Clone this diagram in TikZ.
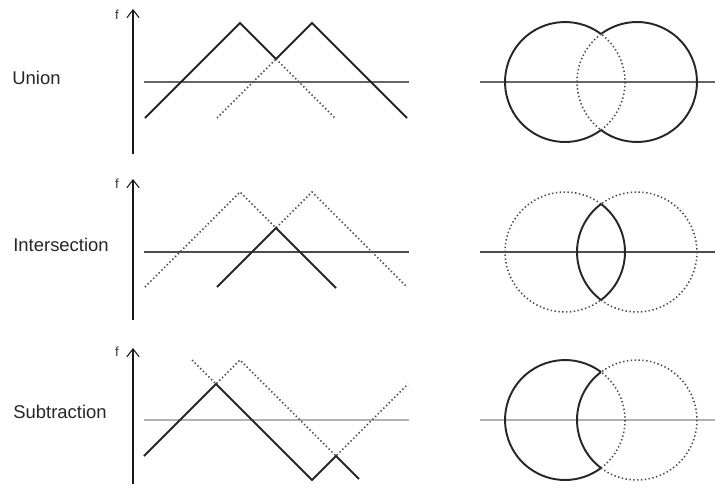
\documentclass[tikz,border=0pt]{standalone}
\usepackage{fontspec}
\setmainfont{Liberation Sans}
\usepackage{tikz}
\usetikzlibrary{arrows.meta}

\tikzset{
  solidline/.style={line width=1.1pt, black!85, line join=miter},
  dotline/.style={line width=0.9pt, black!70, dash pattern=on 0.8pt off 1.4pt},
  levelline/.style={line width=1.2pt, black!60},
  faintline/.style={line width=0.6pt, black!30},
  faxis/.style={line width=0.6pt, black!90, -{Straight Barb[length=4.5pt,width=7pt]}},
  rowlabel/.style={anchor=west, inner sep=0pt, font=\fontsize{10.5}{12}\selectfont, black!85},
  flabel/.style={inner sep=0pt, font=\fontsize{7.5}{8}\selectfont, black!80}
}

\begin{document}
\begin{tikzpicture}[x=0.02cm, y=-0.02cm]
\useasboundingbox (0,0) rectangle (715,494);

% row labels
\node[rowlabel] (union) at (12,78) {Union};
\node[rowlabel] (inter) at (13,245) {Intersection};
\node[rowlabel] (subtr) at (13,412) {Subtraction};

% f axes
\draw[faxis] (133,154) -- (133,9);
\draw[faxis] (133,320) -- (133,179);
\draw[faxis] (133,484) -- (133,348);
\node[flabel] (f1) at (117,15) {f};
\node[flabel] (f2) at (117,184) {f};
\node[flabel] (f3) at (117,352) {f};

% union
\draw[levelline] (144,82) -- (409,82);
\draw[solidline] (145,118) -- (240,23) -- (276,59) -- (312,23) -- (407,118);
\draw[dotline] (276,59) -- (335,118);
\draw[dotline] (217,118) -- (276,59);

\draw[levelline] (480,82) -- (715,82);
\draw[solidline] (565,82) ++(53.13:1.2cm) arc[start angle=53.13, end angle=306.87, radius=1.2cm];
\draw[dotline] (565,82) ++(-53.13:1.2cm) arc[start angle=-53.13, end angle=53.13, radius=1.2cm];
\draw[solidline] (637,82) ++(-126.87:1.2cm) arc[start angle=-126.87, end angle=126.87, radius=1.2cm];
\draw[dotline] (637,82) ++(126.87:1.2cm) arc[start angle=126.87, end angle=233.13, radius=1.2cm];

% intersection
\draw[levelline, black!70] (144,252) -- (409,252);
\draw[dotline] (145,287) -- (240,192) -- (276,228) -- (312,192) -- (407,287);
\draw[solidline] (217,287) -- (276,228) -- (336,288);

\draw[levelline, black!70] (480,252) -- (715,252);
\draw[dotline] (565,252) ++(53.13:1.2cm) arc[start angle=53.13, end angle=306.87, radius=1.2cm];
\draw[solidline] (565,252) ++(-53.13:1.2cm) arc[start angle=-53.13, end angle=53.13, radius=1.2cm];
\draw[dotline] (637,252) ++(-126.87:1.2cm) arc[start angle=-126.87, end angle=126.87, radius=1.2cm];
\draw[solidline] (637,252) ++(126.87:1.2cm) arc[start angle=126.87, end angle=233.13, radius=1.2cm];

% subtraction
\draw[faintline] (144,420) -- (409,420);
\draw[solidline] (144,456) -- (216,384) -- (312,480) -- (336,456) -- (359,479);
\draw[dotline] (192,360) -- (216,384) -- (240,360) -- (336,456) -- (408,384);

\draw[faintline] (480,420) -- (715,420);
\draw[solidline] (565,420) ++(53.13:1.2cm) arc[start angle=53.13, end angle=306.87, radius=1.2cm];
\draw[dotline] (565,420) ++(-53.13:1.2cm) arc[start angle=-53.13, end angle=53.13, radius=1.2cm];
\draw[dotline] (637,420) ++(-126.87:1.2cm) arc[start angle=-126.87, end angle=126.87, radius=1.2cm];
\draw[solidline] (637,420) ++(126.87:1.2cm) arc[start angle=126.87, end angle=233.13, radius=1.2cm];
\end{tikzpicture}
\end{document}
